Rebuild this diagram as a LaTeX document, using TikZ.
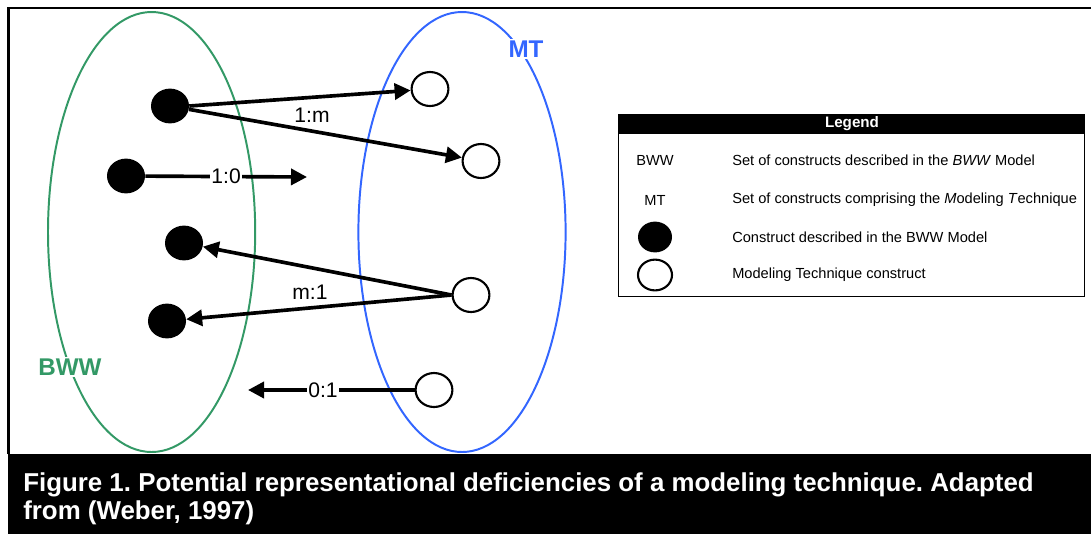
\documentclass[tikz,border=0pt]{standalone}
\usepackage{fontspec}
\setmainfont{Liberation Sans}
\usetikzlibrary{arrows.meta,shapes.geometric}
\definecolor{ink}{HTML}{000000}
\definecolor{bwwgreen}{HTML}{339966}
\definecolor{mtblue}{HTML}{3366FF}

\begin{document}
\begin{tikzpicture}[
  >={Triangle[length=4mm, width=4mm]},
  ratio/.style={font=\fontsize{15}{17}\selectfont, text=ink, inner sep=1pt},
  setlabel/.style={font=\fontsize{17.2}{20}\selectfont\bfseries, fill=white, inner sep=1pt},
  setbound/.style={ellipse, line width=1.4pt, minimum width=51.8mm, minimum height=110mm, inner sep=0pt},
  bwwdot/.style={ellipse, fill=ink, minimum width=9.5mm, minimum height=8.7mm, inner sep=0pt},
  mtdot/.style={ellipse, draw=ink, fill=white, line width=1.5pt, minimum width=9.2mm,
    minimum height=8.5mm, inner sep=0pt},
  map/.style={->, draw=ink, line width=2.6pt},
  legendkey/.style={font=\fontsize{10.4}{12}\selectfont, text=ink},
  legendtext/.style={legendkey, anchor=west, inner sep=0pt},
  caption/.style={font=\fontsize{18.4}{20}\selectfont\bfseries\frenchspacing, text=white,
    align=left, anchor=north west, inner sep=0pt}
]
\useasboundingbox (0,0) rectangle (272.75mm,-133.5mm);

% ---------------------------------------------------------------------------
% Frame and caption bar
% ---------------------------------------------------------------------------
\draw[ink, line width=2pt] (2.1mm,-113.5mm) -- (2.1mm,-2mm) -- (273mm,-2mm);
\fill[ink] (2mm,-113.5mm) rectangle (272.75mm,-133.5mm);
\node[caption] (cap) at (5.75mm,-118.2mm) {Figure 1. Potential representational deficiencies of a modeling technique. Adapted\\from (Weber, 1997)};

% ---------------------------------------------------------------------------
% The two sets of constructs
% ---------------------------------------------------------------------------
\node[setbound, draw=bwwgreen] (bwwset) at (37.9mm,-58mm) {};
\node[setbound, draw=mtblue] (mtset) at (115.5mm,-58mm) {};
\node[setlabel, text=bwwgreen] (bwwname) at (17.5mm,-91.75mm) {BWW};
\node[setlabel, text=mtblue] (mtname) at (131.5mm,-12.25mm) {MT};

\node[bwwdot] (b1) at (42.5mm,-26.5mm) {};
\node[bwwdot] (b2) at (31.5mm,-44mm) {};
\node[bwwdot] (b3) at (46mm,-60.75mm) {};
\node[bwwdot] (b4) at (41.75mm,-80.25mm) {};
\node[mtdot] (o1) at (107.5mm,-22.25mm) {};
\node[mtdot] (o2) at (120.25mm,-40.25mm) {};
\node[mtdot] (o3) at (117.75mm,-73.75mm) {};
\node[mtdot] (o4) at (108.5mm,-97.5mm) {};
\coordinate (void10) at (76.75mm,-44.25mm);
\coordinate (void01) at (62mm,-97.5mm);

% 1:m, 1:0, m:1 and 0:1 mappings
\draw[map] (b1.east) -- (o1);
\draw[map] (b1) -- (o2);
\node[ratio] (lab1m) at (78mm,-28.75mm) {1:m};
\draw[map] (b2) -- node[ratio, fill=white] (lab10) {1:0} (void10);
\draw[map] (o3.west) -- (b3);
\draw[map] (o3.west) -- (b4);
\node[ratio] (labm1) at (77.5mm,-73mm) {m:1};
\draw[map] (o4) -- node[ratio, fill=white, pos=0.55] (lab01) {0:1} (void01);

% ---------------------------------------------------------------------------
% Legend
% ---------------------------------------------------------------------------
\draw[ink, line width=0.7pt] (154.5mm,-28.5mm) rectangle (271mm,-74mm);
\fill[ink] (154.5mm,-28.5mm) rectangle (271mm,-33.5mm);
\node[legendkey, text=white, font=\fontsize{10.8}{12}\selectfont\bfseries] (legtitle) at (213mm,-31mm) {Legend};

\node[legendkey] (keybww) at (163.75mm,-40mm) {BWW};
\node[legendtext] (txtbww) at (183mm,-40mm) {Set of constructs described in the \textit{BWW} Model};
\node[legendkey] (keymt) at (163.75mm,-50mm) {MT};
\node[legendtext] (txtmt) at (183mm,-50mm) {Set of constructs comprising the \textit{M}odeling \textit{T}echnique};
\node[bwwdot, minimum width=8.5mm, minimum height=7.7mm] (keyb) at (163.75mm,-59.25mm) {};
\node[legendtext] (txtb) at (183mm,-59.25mm) {Construct described in the BWW Model};
\node[mtdot, minimum width=8.5mm, minimum height=7.7mm] (keyo) at (163.75mm,-68.75mm) {};
\node[legendtext] (txto) at (183mm,-68.75mm) {Modeling Technique construct};

\end{tikzpicture}
\end{document}
